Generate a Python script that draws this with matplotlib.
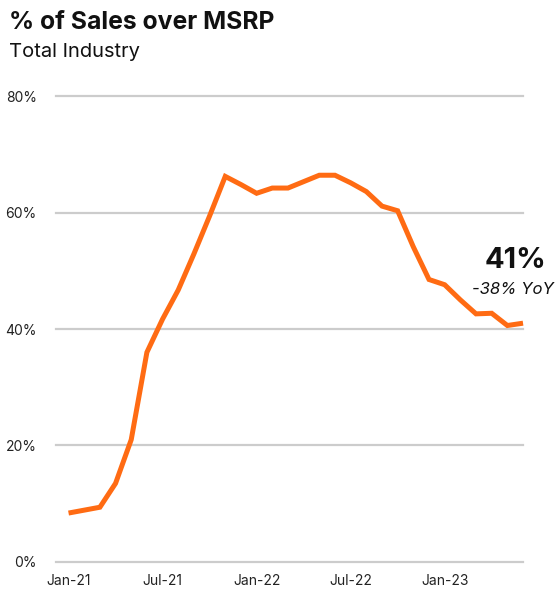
import matplotlib
matplotlib.use('Agg')
import matplotlib.pyplot as plt

plt.rcParams['font.family'] = ['Inter', 'DejaVu Sans']

# monthly, Jan-21 .. Jun-23
months = ['Jan-21', 'Feb-21', 'Mar-21', 'Apr-21', 'May-21', 'Jun-21',
          'Jul-21', 'Aug-21', 'Sep-21', 'Oct-21', 'Nov-21', 'Dec-21',
          'Jan-22', 'Feb-22', 'Mar-22', 'Apr-22', 'May-22', 'Jun-22',
          'Jul-22', 'Aug-22', 'Sep-22', 'Oct-22', 'Nov-22', 'Dec-22',
          'Jan-23', 'Feb-23', 'Mar-23', 'Apr-23', 'May-23', 'Jun-23']
pct_over_msrp = [8.4, 8.9, 9.4, 13.5, 21.0, 36.0,
                 41.7, 46.7, 52.9, 59.4, 66.2, 64.8,
                 63.3, 64.2, 64.2, 65.3, 66.4, 66.4,
                 65.1, 63.6, 61.1, 60.3, 54.1, 48.5,
                 47.6, 45.0, 42.6, 42.7, 40.6, 41.0]
tick_labels = ['Jan-21', 'Jul-21', 'Jan-22', 'Jul-22', 'Jan-23']
y_ticks = [0, 20, 40, 60, 80]

headline = '41%'
yoy_note = '-38% YoY'

orange = '#FF6B13'
grid_gray = '#CCCCCC'
text_col = '#222222'

fig = plt.figure(figsize=(5.6, 5.92), dpi=100)
ax = fig.add_axes([0.1, 0.0507, 0.834, 0.7871])

x = list(range(len(months)))
ax.plot(x, pct_over_msrp, color=orange, lw=3.6, solid_joinstyle='miter',
        solid_capstyle='butt', clip_on=False, zorder=3)

ax.set_xlim(-0.8, 29.0)
ax.set_ylim(0, 80)
ax.set_yticks(y_ticks)
ax.set_yticklabels([f'{v}%' for v in y_ticks])
ax.set_xticks([months.index(m) for m in tick_labels])
ax.set_xticklabels(tick_labels)

for v in y_ticks:
    ax.axhline(v, color=grid_gray, lw=1.6, zorder=1, clip_on=False)

for s in ax.spines.values():
    s.set_visible(False)
ax.tick_params(length=0, labelsize=10, labelcolor=text_col)
ax.tick_params(axis='y', pad=14)
ax.tick_params(axis='x', pad=9)

fig.text(0.016, 0.951, '% of Sales over MSRP', fontsize=17.8, fontweight='bold',
         color='#111111', va='baseline')
fig.text(0.016, 0.904, 'Total Industry', fontsize=14.5, color='#111111', va='baseline')

ax.text(28.5, 50.4, headline, fontsize=21, fontweight='bold', color='#111111',
        ha='center', va='baseline')
ax.text(28.35, 46.0, yoy_note, fontsize=12, style='italic', color='#111111',
        ha='center', va='baseline')

fig.savefig('out.png', dpi=100)
